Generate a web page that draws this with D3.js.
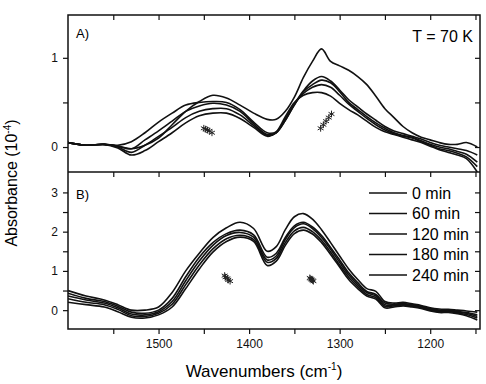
<!DOCTYPE html>
<html>
<head>
<meta charset="utf-8">
<script src="https://cdn.jsdelivr.net/npm/d3@7"></script>
<style>
  body { margin: 0; background: #fff; }
  svg { display: block; font-family: "Liberation Sans", Arial, sans-serif; }
  .tick text { font-size: 12px; fill: #111; }
  .tick line { stroke: #111; stroke-width: 1.2; }
</style>
</head>
<body>
<div id="chart"></div>
<script>
// wavenumber grid (cm-1) shared by all curves
var wavenumbers = [1600,1580,1560,1545,1530,1515,1500,1485,1470,1455,1440,1425,1410,1395,1380,1370,1360,1350,1340,1330,1320,1310,1300,1290,1280,1270,1260,1250,1240,1230,1220,1210,1200,1190,1180,1170,1160,1148];

// panel A, T = 70 K (absorbance, 10^-4)
var panelA_0   = [.05,.02,.03,.01,-.02,.02,.10,.25,.40,.51,.58,.55,.47,.38,.31,.31,.40,.56,.78,.96,1.10,.96,.91,.86,.79,.70,.57,.43,.33,.23,.16,.11,.08,.05,.03,.03,.05,.00];
var panelA_60  = [.05,.02,.03,.02,.06,.16,.28,.38,.47,.50,.51,.50,.42,.28,.16,.17,.30,.48,.63,.74,.79,.74,.64,.53,.45,.37,.30,.23,.18,.15,.12,.09,.05,.02,.00,-.02,-.04,-.09];
var panelA_120 = [.05,.02,.03,.01,-.02,.08,.18,.29,.40,.46,.49,.47,.40,.26,.14,.16,.30,.47,.62,.70,.75,.72,.62,.50,.42,.34,.27,.21,.16,.13,.11,.07,.03,.00,-.02,-.05,-.08,-.17];
var panelA_180 = [.05,.02,.03,.00,-.06,.02,.12,.22,.33,.40,.43,.43,.36,.24,.13,.16,.32,.48,.60,.67,.70,.67,.58,.48,.40,.32,.25,.19,.15,.12,.10,.06,.02,-.02,-.04,-.07,-.11,-.22];
var panelA_240 = [.05,.02,.03,-.01,-.09,-.04,.06,.16,.27,.35,.38,.38,.32,.22,.12,.17,.34,.50,.58,.61,.61,.57,.49,.42,.36,.29,.22,.17,.14,.11,.08,.05,.01,-.03,-.06,-.09,-.13,-.28];

// panel B
var panelB_0   = [.50,.36,.26,.14,.00,.00,.08,.45,1.00,1.45,1.85,2.10,2.24,2.08,1.50,1.62,2.05,2.38,2.46,2.32,2.05,1.72,1.38,1.05,.78,.55,.48,.22,.18,.20,.16,.12,.06,.03,.02,.00,-.02,-.05];
var panelB_60  = [.43,.30,.22,.10,-.05,-.08,.00,.30,.85,1.35,1.72,1.95,2.04,1.92,1.35,1.45,1.85,2.15,2.24,2.12,1.90,1.60,1.28,.95,.70,.48,.40,.18,.15,.17,.14,.10,.04,.00,.00,-.03,-.06,-.12];
var panelB_120 = [.36,.26,.18,.06,-.10,-.12,-.04,.22,.75,1.25,1.65,1.90,1.98,1.86,1.28,1.38,1.80,2.10,2.20,2.08,1.85,1.55,1.22,.90,.65,.45,.36,.14,.13,.15,.12,.08,.02,-.02,-.02,-.05,-.08,-.16];
var panelB_180 = [.29,.20,.14,.02,-.14,-.16,-.08,.15,.65,1.15,1.56,1.82,1.91,1.80,1.22,1.32,1.72,2.02,2.11,2.00,1.78,1.48,1.15,.84,.60,.40,.32,.10,.11,.13,.10,.06,.00,-.04,-.04,-.07,-.11,-.20];
var panelB_240 = [.20,.14,.08,-.04,-.18,-.20,-.12,.08,.55,1.05,1.48,1.75,1.86,1.75,1.14,1.25,1.65,1.95,2.04,1.94,1.72,1.42,1.10,.78,.55,.36,.28,.06,.08,.11,.08,.04,-.02,-.06,-.06,-.09,-.14,-.25];

// fitted band positions (asterisks)
var starsA_wn  = [1450,1448,1446,1444,1441, 1321,1318,1315,1312,1309];
var starsA_val = [.21,.20,.19,.18,.16, .21,.25,.29,.33,.37];
var starsB_wn  = [1427,1426,1424,1423,1421, 1333,1332,1331,1330,1329];
var starsB_val = [.88,.84,.81,.77,.74, .82,.80,.78,.76,.74];

var legendLabels = ["0 min","60 min","120 min","180 min","240 min"];
var xTicks = [1550,1500,1450,1400,1350,1300,1250,1200,1150];

function draw_chart() {

	var W= 486, H= 384;
	var left= 68, right= 480, top= 15, mid= 172, bottom= 329;

	var svg= d3.select("#chart").append("svg")
		.attr("width", W)
		.attr("height", H);

	var x= d3.scaleLinear().domain([1600, 1145]).range([left, right]);
	var yA= d3.scaleLinear().domain([-0.28, 1.48]).range([mid, top]);
	var yB= d3.scaleLinear().domain([-0.48, 3.52]).range([bottom, mid]);

	var defs= svg.append("defs");
	defs.append("clipPath").attr("id", "clipA").append("rect")
		.attr("x", left).attr("y", top).attr("width", right- left).attr("height", mid- top);
	defs.append("clipPath").attr("id", "clipB").append("rect")
		.attr("x", left).attr("y", mid).attr("width", right- left).attr("height", bottom- mid);

	var fmtInt= function(d) { return Number.isInteger(d) ? d : ""; };

	// left axes (ticks outward), right axes (ticks inward, no labels)
	function yAxes(scale, vals) {
		svg.append("g").attr("transform", "translate(" + left + ",0)")
			.call(d3.axisLeft(scale).tickValues(vals).tickSize(5).tickPadding(5).tickFormat(fmtInt))
			.call(function(g) { g.select(".domain").remove(); });
		svg.append("g").attr("transform", "translate(" + right + ",0)")
			.call(d3.axisLeft(scale).tickValues(vals).tickSize(5).tickFormat(""))
			.call(function(g) { g.select(".domain").remove(); });
	}
	yAxes(yA, [0, 0.5, 1]);
	yAxes(yB, [0, 0.5, 1, 1.5, 2, 2.5, 3]);

	// x ticks: top and divider inward, bottom outward with labels
	[top, mid].forEach(function(yy) {
		svg.append("g").attr("transform", "translate(0," + yy + ")")
			.call(d3.axisBottom(x).tickValues(xTicks).tickSize(5).tickFormat(""))
			.call(function(g) { g.select(".domain").remove(); });
	});
	svg.append("g").attr("transform", "translate(0," + bottom + ")")
		.call(d3.axisBottom(x).tickValues(xTicks).tickSize(5).tickPadding(5)
			.tickFormat(function(d) { return d % 100 === 0 ? d : ""; }))
		.call(function(g) { g.select(".domain").remove(); });

	// curves
	var lineA= d3.line().x(function(d) { return x(d[0]); }).y(function(d) { return yA(d[1]); })
		.curve(d3.curveCatmullRom.alpha(0.5));
	var lineB= d3.line().x(function(d) { return x(d[0]); }).y(function(d) { return yB(d[1]); })
		.curve(d3.curveCatmullRom.alpha(0.5));

	var seriesA= [panelA_0, panelA_60, panelA_120, panelA_180, panelA_240];
	var seriesB= [panelB_0, panelB_60, panelB_120, panelB_180, panelB_240];

	svg.append("g").attr("clip-path", "url(#clipA)")
		.selectAll("path").data(seriesA).enter().append("path")
		.attr("d", function(s) { return lineA(d3.zip(wavenumbers, s)); })
		.attr("fill", "none").attr("stroke", "#111").attr("stroke-width", 1.6);

	svg.append("g").attr("clip-path", "url(#clipB)")
		.selectAll("path").data(seriesB).enter().append("path")
		.attr("d", function(s) { return lineB(d3.zip(wavenumbers, s)); })
		.attr("fill", "none").attr("stroke", "#111").attr("stroke-width", 1.6);

	// asterisk markers
	var star= d3.symbol().type(d3.symbolAsterisk || d3.symbolCross).size(32);
	svg.append("g").selectAll("path").data(d3.zip(starsA_wn, starsA_val)).enter().append("path")
		.attr("transform", function(d) { return "translate(" + x(d[0]) + "," + yA(d[1]) + ")"; })
		.attr("d", star).attr("fill", "none").attr("stroke", "#222").attr("stroke-width", 1);
	svg.append("g").selectAll("path").data(d3.zip(starsB_wn, starsB_val)).enter().append("path")
		.attr("transform", function(d) { return "translate(" + x(d[0]) + "," + yB(d[1]) + ")"; })
		.attr("d", star).attr("fill", "none").attr("stroke", "#222").attr("stroke-width", 1);

	// frames
	svg.append("rect").attr("x", left).attr("y", top).attr("width", right- left).attr("height", bottom- top)
		.attr("fill", "none").attr("stroke", "#111").attr("stroke-width", 1.5);
	svg.append("line").attr("x1", left).attr("x2", right).attr("y1", mid).attr("y2", mid)
		.attr("stroke", "#111").attr("stroke-width", 1.5);

	// panel texts
	svg.append("text").attr("x", 76).attr("y", 38).style("font-size", "13px").text("A)");
	svg.append("text").attr("x", 76).attr("y", 199).style("font-size", "13px").text("B)");
	svg.append("text").attr("x", 473).attr("y", 42).style("font-size", "16px")
		.style("text-anchor", "end").text("T = 70 K");

	// legend
	legendLabels.forEach(function(lbl, i) {
		var ly= 193 + i* 20.5;
		svg.append("line").attr("x1", 369).attr("x2", 407).attr("y1", ly).attr("y2", ly)
			.attr("stroke", "#111").attr("stroke-width", 1.6);
		svg.append("text").attr("x", 412).attr("y", ly).attr("dy", "0.36em")
			.style("font-size", "16px").text(lbl);
	});

	// axis titles
	var xt= svg.append("text").attr("x", 264).attr("y", 377).style("font-size", "17px")
		.style("text-anchor", "middle");
	xt.append("tspan").text("Wavenumbers (cm");
	xt.append("tspan").attr("dy", -7).style("font-size", "10px").text("-1");
	xt.append("tspan").attr("dy", 7).text(")");

	var yt= svg.append("text").attr("transform", "translate(17,183) rotate(-90)")
		.style("font-size", "16px").style("text-anchor", "middle");
	yt.append("tspan").text("Absorbance (10");
	yt.append("tspan").attr("dy", -6).style("font-size", "10px").text("-4");
	yt.append("tspan").attr("dy", 6).text(")");
}

draw_chart();
</script>
</body>
</html>
